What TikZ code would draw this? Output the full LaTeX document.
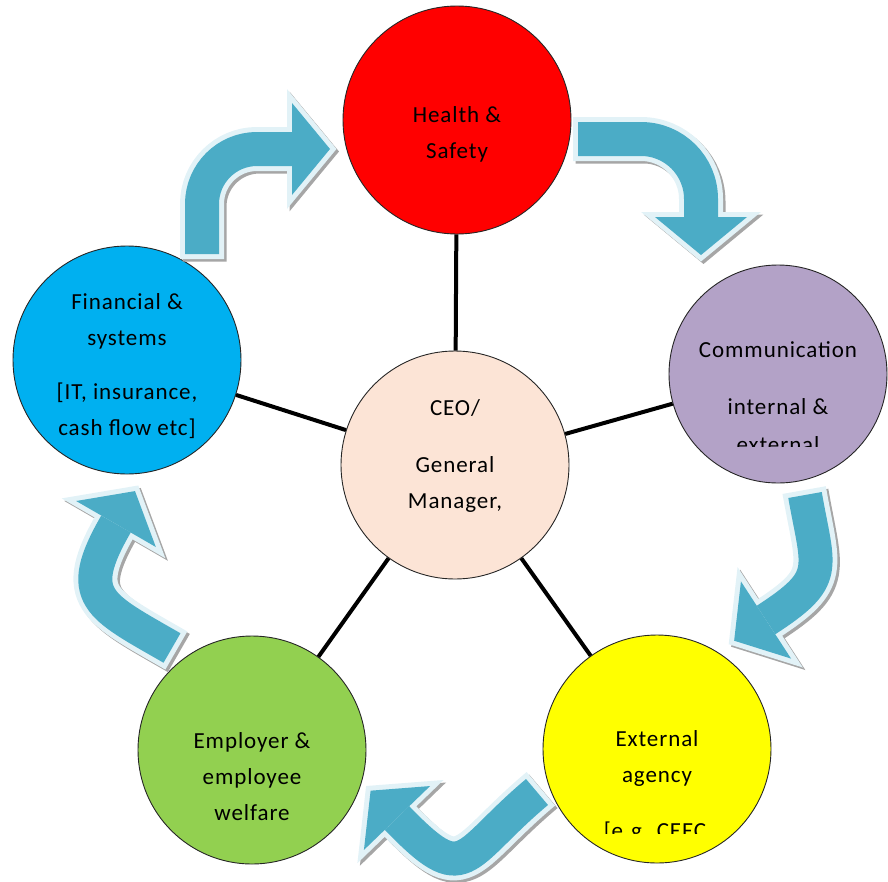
\documentclass[tikz,border=0pt]{standalone}
\usepackage{fontspec}
\setmainfont{Carlito}[LetterSpace=4]
\usepackage{xcolor}
\usepackage{tikz}
\usetikzlibrary{decorations.markings}

\definecolor{hsred}{HTML}{FF0000}
\definecolor{cmpurple}{HTML}{B3A2C7}
\definecolor{eayellow}{HTML}{FFFF00}
\definecolor{ewgreen}{HTML}{92D050}
\definecolor{fsblue}{HTML}{00B0F0}
\definecolor{ceopeach}{HTML}{FCE4D6}
\definecolor{arrowteal}{HTML}{4BACC6}
\definecolor{arrowrim}{HTML}{E2F2F7}
\definecolor{arrowshade}{HTML}{A6A6A6}

% one bent arrow = shadow, light rim, teal body
\newcommand{\cyclearrow}[1]{%
  \draw[arrow shade] #1;
  \draw[arrow rim=arrowrim] #1;
  \draw[arrow body] #1;
}

\begin{document}
\begin{tikzpicture}[
    x=1pt, y=1pt,
    disc/.style={draw=black!85, line width=0.9pt, circle, minimum size=228pt, inner sep=0pt},
    txt/.style={font=\fontsize{23}{36}\selectfont, align=center, text=black},
    spoke/.style={line width=4pt, black},
    head/.style={decorate, decoration={markings, mark=at position 1 with {#1}}},
    arrow body/.style={draw=arrowteal, line width=34pt,
        postaction={head={\fill[arrowteal, sharp corners] (0pt,-46pt) -- (38pt,0pt) -- (0pt,46pt) -- cycle;}}},
    arrow rim/.style={draw=#1, line width=44pt, shorten <=-5pt,
        postaction={head={\filldraw[#1, sharp corners, line width=10pt, line join=miter] (0pt,-46pt) -- (38pt,0pt) -- (0pt,46pt) -- cycle;}}},
    arrow shade/.style={arrow rim=arrowshade, transform canvas={shift={(2.5pt,-2.5pt)}}}
]
\useasboundingbox (0,0) rectangle (888,-881);

% Circles
\node (ceo) [disc, fill=ceopeach] at (455,-465) {};
\node (hs) [disc, fill=hsred] at (457,-120) {};
\node (cm) [disc, fill=cmpurple, minimum size=218pt] at (778,-374) {};
\node (ea) [disc, fill=eayellow] at (657,-749) {};
\node (ew) [disc, fill=ewgreen] at (252,-750) {};
\node (fs) [disc, fill=fsblue] at (127,-360) {};

% Spokes
\draw[spoke] (ceo) -- (hs);
\draw[spoke] (ceo) -- (cm);
\draw[spoke] (ceo) -- (ea);
\draw[spoke] (ceo) -- (ew);
\draw[spoke] (ceo) -- (fs);

% Labels
\node (ceo-txt) [txt, yshift=9.5pt] at (ceo) {CEO/\\[21pt]General\\Manager,};
\node (hs-txt) [txt, yshift=-14.5pt] at (hs) {Health \&\\Safety};
\node (cm-txt) [txt, yshift=-4.5pt] at (cm) {Communication\\[21pt]internal \&};
\node (ea-txt) [txt, yshift=-9.5pt] at (ea) {External\\agency};
\node (ew-txt) [txt, yshift=-27pt] at (ew) {Employer \&\\employee\\welfare};
\node (fs-txt) [txt, yshift=-6pt] at (fs) {Financial \&\\systems\\[18pt]{}[IT, insurance,\\cash flow etc]};

% Lines cut off by the text boxes
\begin{scope}
\clip (660,-420) rectangle (888,-446);
\node (cm-cut) [txt, anchor=base] at (778,-452) {external};
\end{scope}
\begin{scope}
\clip (560,-810) rectangle (760,-833);
\node (ea-cut) [txt, anchor=base] at (655,-838) {[e.g. CEEC};
\end{scope}

% Arrow ends
\coordinate (a1s) at (578,-139);
\coordinate (a1e) at (701,-217);
\coordinate (a2s) at (805,-495);
\coordinate (a2e) at (766,-620);
\coordinate (a3s) at (537,-792);
\coordinate (a3e) at (397,-818);
\coordinate (a4s) at (172,-648);
\coordinate (a4e) at (116,-524);
\coordinate (a5s) at (202,-254);
\coordinate (a5e) at (292,-149);

% Cycle arrows
\cyclearrow{[rounded corners=60pt] (a1s) -| (a1e)}
\cyclearrow{(a2s) to[out=-80, in=33, looseness=1.5] (a2e)}
\cyclearrow{(a3s) to[out=220, in=-46, looseness=1.8] (a3e)}
\cyclearrow{(a4s) to[out=150, in=240, looseness=1.6] (a4e)}
\cyclearrow{[rounded corners=55pt] (a5s) |- (a5e)}

\end{tikzpicture}
\end{document}
